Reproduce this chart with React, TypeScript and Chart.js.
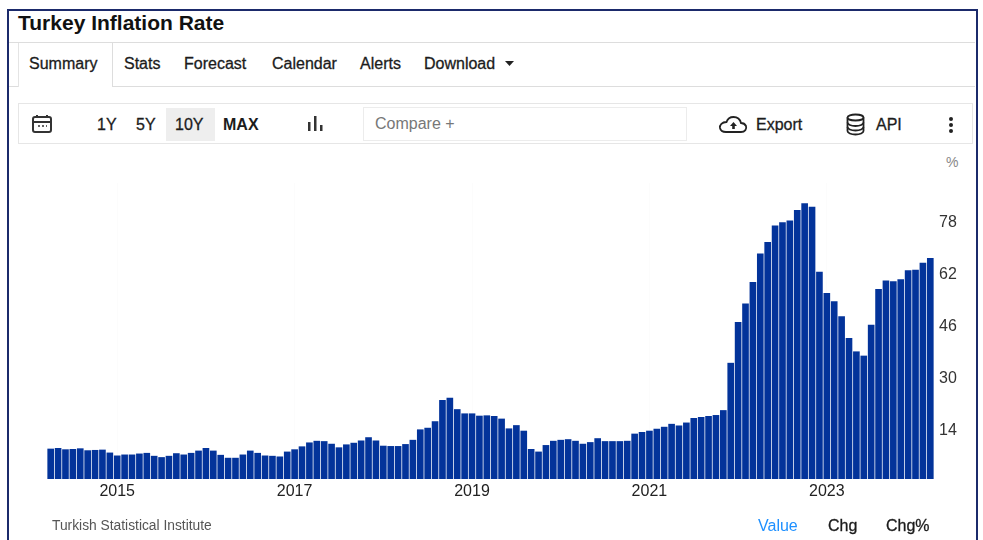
import React, { useEffect, useRef } from "react";
import { Chart, registerables } from "chart.js";

Chart.register(...registerables);

const years = [
  2014, 2015, 2016, 2017, 2018, 2019, 2020, 2021, 2022, 2023, 2024,
];
const startMonthOfFirstYear = 3;
const values2014 = [8.6, 8.8, 8.4, 8.5, 8.7, 8.1, 8.2, 8.3, 7.4];
const values2015 = [6.5, 6.8, 6.8, 7.1, 7.3, 6.4, 6.0, 6.4, 7.2, 6.8, 7.3, 8.0];
const values2016 = [8.8, 8.0, 6.7, 5.8, 5.8, 6.8, 8.0, 7.3, 6.5, 6.4, 6.2, 7.7];
const values2017 = [8.4, 9.3, 10.5, 11.0, 10.9, 10.1, 9.0, 9.9, 10.4, 11.1, 12.1, 11.1];
const values2018 = [9.5, 9.4, 9.4, 10.0, 11.3, 14.5, 15.0, 17.0, 23.5, 24.2, 20.7, 19.4];
const values2019 = [19.4, 18.7, 18.8, 18.6, 17.8, 14.8, 15.8, 14.1, 8.5, 7.7, 9.7, 11.0];
const values2020 = [11.3, 11.5, 11.0, 10.1, 10.6, 11.8, 10.9, 10.9, 10.9, 11.0, 13.2, 13.7];
const values2021 = [14.1, 14.7, 15.3, 16.2, 15.7, 16.6, 18.0, 18.3, 18.6, 18.9, 20.4, 34.9];
const values2022 = [47.4, 53.1, 59.7, 68.4, 71.9, 77.0, 78.0, 78.5, 81.7, 83.8, 82.7, 62.8];
const values2023 = [56.3, 53.8, 49.2, 42.5, 38.4, 37.1, 46.6, 57.5, 60.1, 59.9, 60.5, 63.3];
const values2024 = [63.4, 65.6, 67.0];

const valuesByYear = [
  values2014, values2015, values2016, values2017, values2018, values2019,
  values2020, values2021, values2022, values2023, values2024,
];
const yTickValues = [14, 30, 46, 62, 78];
const xTickYears = [2015, 2017, 2019, 2021, 2023];
const tabs = ["Summary", "Stats", "Forecast", "Calendar", "Alerts", "Download"];

const axisFloor = -0.7;
const fontFamily = '"Liberation Sans", Arial, sans-serif';

// One "YYYY-M" label per monthly bar.
const labels: string[] = [];
const series: number[] = [];
years.forEach((year, yi) => {
  valuesByYear[yi].forEach((value, mi) => {
    const month = yi === 0 ? mi + startMonthOfFirstYear : mi;
    labels.push(`${year}-${month}`);
    series.push(value);
  });
});

const at = (
  left: number,
  top: number,
  extra: React.CSSProperties = {}
): React.CSSProperties => ({
  position: "absolute",
  left,
  top,
  whiteSpace: "nowrap",
  ...extra,
});

const tabLefts = [29, 124, 184, 272, 360, 424];
const rangeButtons: [string, number][] = [
  ["1Y", 97],
  ["5Y", 136],
  ["10Y", 175],
  ["MAX", 223],
];

export default function App() {
  const canvasRef = useRef<HTMLCanvasElement | null>(null);

  useEffect(() => {
    const chart = new Chart(canvasRef.current as HTMLCanvasElement, {
      type: "bar",
      data: {
        labels,
        datasets: [
          {
            data: series,
            base: axisFloor,
            backgroundColor: "#03339a",
            barPercentage: 0.9,
            categoryPercentage: 1,
          },
        ],
      },
      options: {
        animation: false,
        responsive: false,
        layout: { padding: { top: 183, left: 47, right: 0, bottom: 0 } },
        plugins: { legend: { display: false }, tooltip: { enabled: false } },
        scales: {
          x: {
            afterFit: (s: any) => {
              s.height = 61;
            },
            border: { display: false },
            grid: {
              offset: false,
              drawTicks: false,
              color: (ctx: any) =>
                ctx.tick && ctx.tick.label ? "#fcfcfc" : "rgba(0,0,0,0)",
            },
            ticks: {
              autoSkip: false,
              maxRotation: 0,
              padding: 3,
              color: "#222222",
              font: { family: fontFamily, size: 16 },
              callback: (_v: any, i: number) => {
                const [y, m] = labels[i].split("-").map(Number);
                return m === 0 && xTickYears.includes(y) ? String(y) : "";
              },
            },
          },
          y: {
            position: "right",
            min: axisFloor,
            max: 90,
            afterFit: (s: any) => {
              s.width = 49;
            },
            afterBuildTicks: (s: any) => {
              s.ticks = yTickValues.map((value) => ({ value }));
            },
            border: { display: false },
            grid: { display: false, drawTicks: false },
            ticks: {
              padding: 5,
              color: "#333333",
              font: { family: fontFamily, size: 16 },
            },
          },
        },
      },
    });
    return () => chart.destroy();
  }, []);

  const tabFont: React.CSSProperties = {
    fontFamily,
    fontSize: 16,
    color: "#1c1c1c",
    lineHeight: "18px",
  };
  const heavy: React.CSSProperties = { WebkitTextStroke: "0.3px #1c1c1c" };

  return (
    <div
      style={{
        position: "absolute",
        left: 0,
        top: 0,
        width: 983,
        height: 540,
        background: "#ffffff",
        overflow: "hidden",
      }}
    >
      <div
        style={{
          position: "absolute",
          left: 7,
          top: 9,
          width: 967,
          height: 540,
          border: "2px solid #1b2a6b",
          boxSizing: "content-box",
        }}
      />
      <div
        style={at(18, 11, {
          fontFamily,
          fontSize: 21,
          fontWeight: 700,
          color: "#111111",
          lineHeight: "23px",
        })}
      >
        Turkey Inflation Rate
      </div>

      {/* Tab strip */}
      <div style={at(9, 42, { width: 966, height: 1, background: "#dddddd" })} />
      <div style={at(9, 86, { width: 9, height: 1, background: "#dddddd" })} />
      <div style={at(112, 86, { width: 863, height: 1, background: "#dddddd" })} />
      <div style={at(18, 43, { width: 95, height: 44, boxSizing: "border-box", borderLeft: "1px solid #e4e4e4", borderRight: "1px solid #dddddd" })} />
      {tabs.map((t, i) => (
        <div key={t} style={at(tabLefts[i], 55, { ...tabFont, ...heavy })}>
          {t}
        </div>
      ))}
      <svg style={at(505, 61)} width="10" height="6">
        <path d="M0 0 L9 0 L4.5 5 Z" fill="#222222" />
      </svg>

      {/* Toolbar */}
      <div
        style={at(18, 103, {
          width: 955,
          height: 41,
          boxSizing: "border-box",
          border: "1px solid #e6e6e6",
        })}
      />
      <svg style={at(31, 114)} width="22" height="21" viewBox="0 0 22 21" fill="none">
        <rect x="2" y="3" width="18" height="15" rx="2" stroke="#333333" strokeWidth="2" />
        <path d="M2 8 H20" stroke="#333333" strokeWidth="2" />
        <path d="M6 1 V4 M16 1 V4" stroke="#333333" strokeWidth="2" />
        <path d="M7 12 H9 M11 12 H13 M15 12 H16" stroke="#333333" strokeWidth="1.5" />
      </svg>
      <div style={at(166, 108, { width: 49, height: 33, background: "#eeeeee" })} />
      {rangeButtons.map(([t, x]) => (
        <div
          key={t}
          style={at(x, 116, {
            ...tabFont,
            fontWeight: t === "MAX" ? 700 : 400,
            ...(t === "MAX" ? {} : heavy),
          })}
        >
          {t}
        </div>
      ))}
      <svg style={at(307, 115)} width="18" height="18">
        <rect x="1" y="7" width="2.5" height="9" fill="#333333" />
        <rect x="7" y="1" width="2.5" height="15" fill="#333333" />
        <rect x="13" y="10" width="2.5" height="6" fill="#333333" />
      </svg>
      <div
        style={at(363, 107, {
          width: 324,
          height: 34,
          boxSizing: "border-box",
          border: "1px solid #ececec",
        })}
      />
      <div style={at(375, 115, { ...tabFont, color: "#777777" })}>Compare +</div>
      <svg style={at(718, 115)} width="30" height="20" viewBox="0 0 30 20" fill="none">
        <path
          d="M8 17 H23 C27 17 29 14 28 11 C27 9 25 8 23 8 C22 4 19 2 15.5 2 C12 2 9.5 4 8.5 7 C4 7 1.5 10 2 13 C2.5 15.5 5 17 8 17 Z"
          stroke="#222222"
          strokeWidth="1.8"
        />
        <path d="M15.5 7 L19 11 H16.8 V14 H14.2 V11 H12 Z" fill="#222222" />
      </svg>
      <div style={at(756, 116, { ...tabFont, ...heavy })}>Export</div>
      <svg style={at(845, 113)} width="21" height="23" viewBox="0 0 21 23" fill="none" stroke="#222222" strokeWidth="1.8">
        <ellipse cx="10.5" cy="4.5" rx="8" ry="3" />
        <path d="M2.5 4.5 V18 C2.5 20 6 21.5 10.5 21.5 C15 21.5 18.5 20 18.5 18 V4.5" />
        <path d="M2.5 9.5 C2.5 11.5 6 13 10.5 13 C15 13 18.5 11.5 18.5 9.5" />
        <path d="M2.5 14 C2.5 16 6 17.5 10.5 17.5 C15 17.5 18.5 16 18.5 14" />
      </svg>
      <div style={at(876, 116, { ...tabFont, ...heavy })}>API</div>
      <svg style={at(948, 116)} width="6" height="18">
        <circle cx="3" cy="3" r="2" fill="#222222" />
        <circle cx="3" cy="9" r="2" fill="#222222" />
        <circle cx="3" cy="15" r="2" fill="#222222" />
      </svg>

      <div
        style={at(946, 155, {
          fontFamily,
          fontSize: 14,
          color: "#888888",
          lineHeight: "15px",
        })}
      >
        %
      </div>

      <canvas
        ref={canvasRef}
        width={983}
        height={540}
        style={{ position: "absolute", left: 0, top: 0, display: "block" }}
      />

      {/* Footer */}
      <div
        style={at(52, 519, {
          fontFamily,
          fontSize: 13.8,
          color: "#555555",
          lineHeight: "14px",
        })}
      >
        Turkish Statistical Institute
      </div>
      <div style={at(758, 517, { ...tabFont, color: "#1e90ff" })}>Value</div>
      <div style={at(828, 517, { ...tabFont, ...heavy })}>Chg</div>
      <div style={at(886, 517, { ...tabFont, ...heavy })}>Chg%</div>
    </div>
  );
}
